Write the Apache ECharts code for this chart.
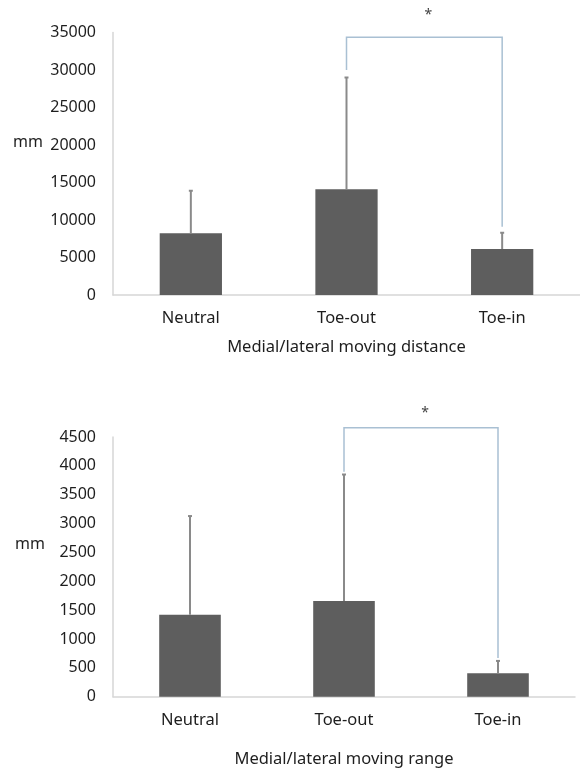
<!DOCTYPE html>
<html>
<head>
<meta charset="utf-8">
<script src="https://cdn.jsdelivr.net/npm/echarts@6/dist/echarts.min.js"></script>
<style>
html,body{margin:0;padding:0;background:#fff;}
#chart{width:580px;height:769px;}
</style>
</head>
<body>
<div id="chart"></div>
<script>
// ---- data ----
const categories = ['Neutral', 'Toe-out', 'Toe-in'];
const distanceMean = [8230, 14100, 6130];
const distanceSD = [5670, 14900, 2170];
const rangeMean = [1420, 1660, 405];
const rangeSD = [1710, 2190, 215];
const distanceTicks = { max: 35000, interval: 5000 };
const rangeTicks = { max: 4500, interval: 500 };
// significance brackets: [fromIndex, toIndex, topValue, leftEndValue, rightEndValue, starValue]
const distanceBracket = [1, 2, 34360, 30000, 9100, 37300];
const rangeBracket = [1, 2, 4662, 3900, 670, 4920];
const distanceTitle = 'Medial/lateral moving distance';
const rangeTitle = 'Medial/lateral moving range';
const unitLabel = 'mm';
const starLabel = '*';

const FONT = 'Noto Sans';
const BAR_COLOR = '#5e5e5e';
const ERR_COLOR = '#8a8a8a';
const BRACKET_COLOR = '#a9c0d3';
const AXIS_COLOR = '#d6d6d6';
const TEXT_COLOR = '#1e1e1e';

function errData(mean, sd) {
  return mean.map((m, i) => [i, m, m + sd[i]]);
}

function errRender(params, api) {
  const base = api.coord([api.value(0), api.value(1)]);
  const top = api.coord([api.value(0), api.value(2)]);
  return {
    type: 'group',
    children: [
      { type: 'line', shape: { x1: base[0], y1: base[1], x2: top[0], y2: top[1] },
        style: { stroke: ERR_COLOR, lineWidth: 2 } },
      { type: 'line', shape: { x1: top[0] - 2, y1: top[1], x2: top[0] + 2, y2: top[1] },
        style: { stroke: ERR_COLOR, lineWidth: 2 } }
    ]
  };
}

function bracketRender(params, api) {
  const i0 = api.value(0), i1 = api.value(1);
  const pTopL = api.coord([i0, api.value(2)]);
  const pTopR = api.coord([i1, api.value(2)]);
  const pL = api.coord([i0, api.value(3)]);
  const pR = api.coord([i1, api.value(4)]);
  const pStar = api.coord([i0, api.value(5)]);
  return {
    type: 'group',
    children: [
      { type: 'polyline', shape: { points: [pL, pTopL, pTopR, pR] },
        style: { stroke: BRACKET_COLOR, lineWidth: 1.5, fill: null } },
      { type: 'text', style: { text: starLabel, x: (pTopL[0] + pTopR[0]) / 2 + 4, y: pStar[1],
        align: 'center', verticalAlign: 'middle', fill: '#444', font: '14px "' + FONT + '"' } }
    ]
  };
}

function makeAxes(gridIndex, ticks, title, nameGap) {
  const x = {
    type: 'category', gridIndex, data: categories,
    axisLine: { show: true, lineStyle: { color: AXIS_COLOR, width: 1.5 } },
    axisTick: { show: false },
    axisLabel: { color: TEXT_COLOR, fontFamily: FONT, fontSize: 16.5, margin: 15 },
    name: title, nameLocation: 'middle', nameGap: nameGap,
    nameTextStyle: { color: TEXT_COLOR, fontFamily: FONT, fontSize: 16.5 }
  };
  const y = {
    type: 'value', gridIndex, min: 0, max: ticks.max, interval: ticks.interval,
    axisLine: { show: true, lineStyle: { color: AXIS_COLOR, width: 1.5 } },
    axisTick: { show: false },
    splitLine: { show: false },
    axisLabel: { color: TEXT_COLOR, fontFamily: FONT, fontSize: 16, margin: 17,
      formatter: v => String(v) }
  };
  return [x, y];
}

const [x0, y0] = makeAxes(0, distanceTicks, distanceTitle, 44);
const [x1, y1] = makeAxes(1, rangeTicks, rangeTitle, 54);

const option = {
  animation: false,
  backgroundColor: '#fff',
  grid: [
    { left: 113, right: -4, top: 32.5, height: 262.5 },
    { left: 113, right: 5, top: 437, height: 259.7 }
  ],
  xAxis: [x0, x1],
  yAxis: [y0, y1],
  title: [
    { text: unitLabel, left: 13, top: 134, textStyle: { fontFamily: FONT, fontSize: 16, fontWeight: 'normal', color: TEXT_COLOR }, padding: 0 },
    { text: unitLabel, left: 15, top: 536, textStyle: { fontFamily: FONT, fontSize: 16, fontWeight: 'normal', color: TEXT_COLOR }, padding: 0 }
  ],
  series: [
    { type: 'bar', xAxisIndex: 0, yAxisIndex: 0, data: distanceMean, barWidth: '40%',
      itemStyle: { color: BAR_COLOR } },
    { type: 'custom', xAxisIndex: 0, yAxisIndex: 0, data: errData(distanceMean, distanceSD),
      renderItem: errRender, encode: { x: 0, y: [1, 2] }, z: 5 },
    { type: 'custom', xAxisIndex: 0, yAxisIndex: 0, data: [distanceBracket],
      renderItem: bracketRender, encode: { x: [0, 1], y: [2, 3, 4] }, clip: false, z: 6 },
    { type: 'bar', xAxisIndex: 1, yAxisIndex: 1, data: rangeMean, barWidth: '40%',
      itemStyle: { color: BAR_COLOR } },
    { type: 'custom', xAxisIndex: 1, yAxisIndex: 1, data: errData(rangeMean, rangeSD),
      renderItem: errRender, encode: { x: 0, y: [1, 2] }, z: 5 },
    { type: 'custom', xAxisIndex: 1, yAxisIndex: 1, data: [rangeBracket],
      renderItem: bracketRender, encode: { x: [0, 1], y: [2, 3, 4] }, clip: false, z: 6 }
  ]
};

const chart = echarts.init(document.getElementById('chart'), null, { renderer: 'canvas' });
chart.setOption(option);
</script>
</body>
</html>
